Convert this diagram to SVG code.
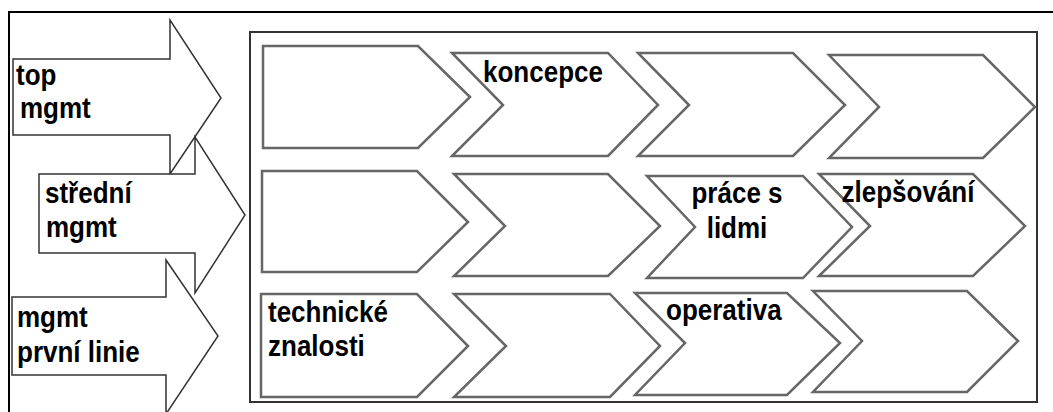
<svg xmlns="http://www.w3.org/2000/svg" width="1053" height="412" viewBox="0 0 1053 412">
  <style>
    .frame { fill: none; stroke: #000; stroke-width: 2; }
    .panel { fill: #fff; stroke: #333; stroke-width: 2; }
    .level { fill: #fff; stroke: #333; stroke-width: 1.5; stroke-linejoin: miter; }
    .step { fill: #fff; stroke: #666; stroke-width: 2.5; stroke-linejoin: miter; }
    .lbl { font-family: "Liberation Sans", Arial, sans-serif; font-weight: bold; font-size: 26px; fill: #000; }
    .mid { text-anchor: middle; }
  </style>

  <rect x="0" y="0" width="1053" height="412" fill="#fff"/>

  <!-- outer frame: top and left edges only -->
  <path class="frame" d="M1053,12 H9 V412"/>

  <!-- management levels (big arrows on the left) -->
  <g id="level-top">
    <polygon class="level" points="13,59 170,59 170,20 221,98 170,174 170,135 13,135"/>
    <text class="lbl" transform="translate(16,85) scale(1,1.1)">top</text>
    <text class="lbl" transform="translate(20,118) scale(1,1.1)">mgmt</text>
  </g>
  <g id="level-middle">
    <polygon class="level" points="39,174 195,174 195,137 245,215 195,293 195,253 39,253"/>
    <text class="lbl" transform="translate(45,203) scale(1,1.1)">střední</text>
    <text class="lbl" transform="translate(46,237) scale(1,1.1)">mgmt</text>
  </g>
  <g id="level-first">
    <polygon class="level" points="12,297 166,297 166,260 218,336 166,414 166,375 12,375"/>
    <text class="lbl" transform="translate(17,327) scale(1,1.1)">mgmt</text>
    <text class="lbl" transform="translate(17,362) scale(1,1.1)">první linie</text>
  </g>

  <!-- skills panel -->
  <rect id="panel" class="panel" x="250" y="32" width="787" height="370"/>

  <!-- row 1 -->
  <g id="r1c1"><polygon class="step" points="263,46 418,46 470,97 418,148 263,148"/></g>
  <g id="r1c2">
    <polygon class="step" points="452,53 608,53 658,105 608,156 452,156 503,105"/>
    <text class="lbl" transform="translate(483,82) scale(1,1.1)">koncepce</text>
  </g>
  <g id="r1c3"><polygon class="step" points="638,53 793,53 845,105 793,156 638,156 689,105"/></g>
  <g id="r1c4"><polygon class="step" points="829,55 983,55 1035,107 983,158 829,158 879,107"/></g>

  <!-- row 2 -->
  <g id="r2c1"><polygon class="step" points="262,171 417,171 468,222 417,272 262,272"/></g>
  <g id="r2c2"><polygon class="step" points="454,174 608,174 660,226 608,276 454,276 505,226"/></g>
  <g id="r2c3">
    <polygon class="step" points="647,176 803,176 852,227 803,278 647,278 695,227"/>
    <text class="lbl mid" transform="translate(737,203) scale(1,1.1)">práce s</text>
    <text class="lbl mid" transform="translate(737,238) scale(1,1.1)">lidmi</text>
  </g>
  <g id="r2c4">
    <polygon class="step" points="819,174 973,174 1025,226 973,276 819,276 870,226"/>
    <text class="lbl mid" transform="translate(908,202) scale(1,1.1)">zlepšování</text>
  </g>

  <!-- row 3 -->
  <g id="r3c1">
    <polygon class="step" points="261,294 417,294 468,346 417,397 261,397"/>
    <text class="lbl" transform="translate(268,322) scale(1,1.1)">technické</text>
    <text class="lbl" transform="translate(268,356) scale(1,1.1)">znalosti</text>
  </g>
  <g id="r3c2"><polygon class="step" points="454,294 610,294 660,346 610,397 454,397 506,346"/></g>
  <g id="r3c3">
    <polygon class="step" points="635,293 787,293 840,343 787,395 635,395 685,343"/>
    <text class="lbl" transform="translate(666,320) scale(1,1.1)">operativa</text>
  </g>
  <g id="r3c4"><polygon class="step" points="813,291 967,291 1018,341 967,392 813,392 862,341"/></g>
</svg>
